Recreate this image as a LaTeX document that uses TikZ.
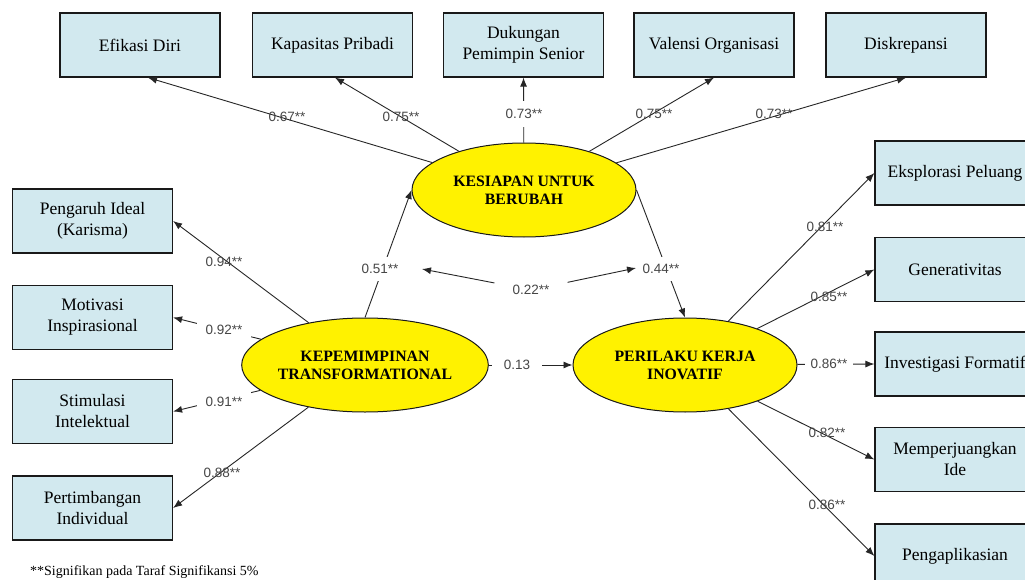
\documentclass[tikz,border=0pt]{standalone}
\usepackage{fontspec}
\setmainfont{Liberation Serif}
\newfontfamily\labfont{Liberation Sans}
\usetikzlibrary{shapes.geometric,arrows.meta,calc}
\definecolor{boxblue}{RGB}{210,233,239}
\definecolor{labgray}{RGB}{70,70,70}
\tikzset{
 ind/.style={draw=black!90, line width=1.2pt, fill=boxblue, minimum width=160pt, minimum height=64pt, inner sep=0pt, align=center, font=\fontsize{17.5}{21}\selectfont},
 lat/.style={ellipse, draw=black!90, line width=1pt, fill=yellow, minimum width=224pt, minimum height=94pt, inner sep=0pt, align=center, font=\fontsize{15.8}{18}\selectfont\bfseries},
 arr/.style={draw=black!85, line width=0.9pt, -{Latex[length=9pt,width=7pt]}},
 lab/.style={font=\labfont\fontsize{13.5}{15}\selectfont, text=labgray, inner sep=1pt},
 labw/.style={lab, fill=white, inner xsep=6pt, inner ysep=5pt},
}
\begin{document}
\begin{tikzpicture}[x=1pt,y=-1pt]
\useasboundingbox (0,0) rectangle (1025,580);
\clip (0,0) rectangle (1025,580);
\fill[white] (0,0) rectangle (1025,580);

% indicator boxes - top
\node[ind] (efi) at (140,45) {Efikasi Diri};
\node[ind] (kap) at (332.5,45) {Kapasitas Pribadi};
\node[ind] (duk) at (523.5,45) {Dukungan\\Pemimpin Senior};
\node[ind] (val) at (714,45) {Valensi Organisasi};
\node[ind] (dis) at (906,45) {Diskrepansi};
% left
\node[ind] (pen) at (92.5,221) {Pengaruh Ideal\\(Karisma)};
\node[ind] (mot) at (92.5,317.5) {Motivasi\\Inspirasional};
\node[ind] (sti) at (92.5,411.5) {Stimulasi\\Intelektual};
\node[ind] (pert) at (92.5,508) {Pertimbangan\\Individual};
% right
\node[ind] (eks) at (955,173) {Eksplorasi Peluang};
\node[ind] (gen) at (955,269.5) {Generativitas};
\node[ind] (inv) at (955,364) {Investigasi Formatif};
\node[ind] (mem) at (955,459.5) {Memperjuangkan\\Ide};
\node[ind] (pea) at (955,556) {Pengaplikasian};

% latent variables
\node[lat] (kes) at (524,190) {KESIAPAN UNTUK\\BERUBAH};
\node[lat] (kep) at (365,365) {KEPEMIMPINAN\\TRANSFORMATIONAL};
\node[lat] (pkj) at (685,365) {PERILAKU KERJA\\INOVATIF};

% loadings
\draw[arr] (kes) -- ($(efi.south)+(8,0)$);
\draw[arr] (kes) -- ($(kap.south)+(2.5,0)$);
\draw[arr] (kes) -- (duk.south);
\draw[arr] (kes) -- (val.south);
\draw[arr] (kes) -- (dis.south);

\draw[arr] (kep) -- (pen.east);
\draw[arr] (kep) -- (mot.east);
\draw[arr] (kep) -- (sti.east);
\draw[arr] (kep) -- (pert.east);

\draw[arr] (pkj) -- (eks.west);
\draw[arr] (pkj) -- (gen.west);
\draw[arr] (pkj) -- (inv.west);
\draw[arr] (pkj) -- (mem.west);
\draw[arr] (pkj) -- (pea.west);

% structural paths
\draw[arr] (kep.north) -- (kes.west);
\draw[arr] (kes.east) -- (pkj.north);
\draw[arr] (kep) -- (pkj);

% covariance
\node[lab, inner xsep=18pt, inner ysep=3pt] (l22) at (531,290) {0.22**};
\coordinate (c22l) at (422,269);
\coordinate (c22r) at (636,268);
\draw[arr] (l22) -- (c22l);
\draw[arr] (l22) -- (c22r);

% labels
\node[lab] (l67) at (287,117) {0.67**};
\node[lab] (l75a) at (401,117) {0.75**};
\node[labw, inner ysep=8pt] (l73a) at (524,114) {0.73**};
\node[lab] (l75b) at (654,114) {0.75**};
\node[lab] (l73b) at (774,114) {0.73**};

\node[lab] (l94) at (224,262) {0.94**};
\node[labw, inner xsep=9pt] (l92) at (224,330) {0.92**};
\node[labw, inner xsep=9pt] (l91) at (224,402) {0.91**};
\node[lab] (l88) at (222,473) {0.88**};

\node[labw, inner ysep=7pt] (l51) at (380,269) {0.51**};
\node[labw, inner ysep=7pt] (l44) at (661,269) {0.44**};
\node[labw, inner xsep=12pt] (l13) at (517,365) {0.13};

\node[lab] (l81) at (825,227) {0.81**};
\node[lab] (l85) at (829,297) {0.85**};
\node[labw, inner xsep=6pt] (l86a) at (829,364) {0.86**};
\node[lab] (l82) at (827,433) {0.82**};
\node[lab] (l86b) at (827,505) {0.86**};

% note
\node[anchor=base west, inner sep=0pt, font=\fontsize{14}{16}\selectfont] (note) at (30,575) {**Signifikan pada Taraf Signifikansi 5\%};
\end{tikzpicture}
\end{document}
